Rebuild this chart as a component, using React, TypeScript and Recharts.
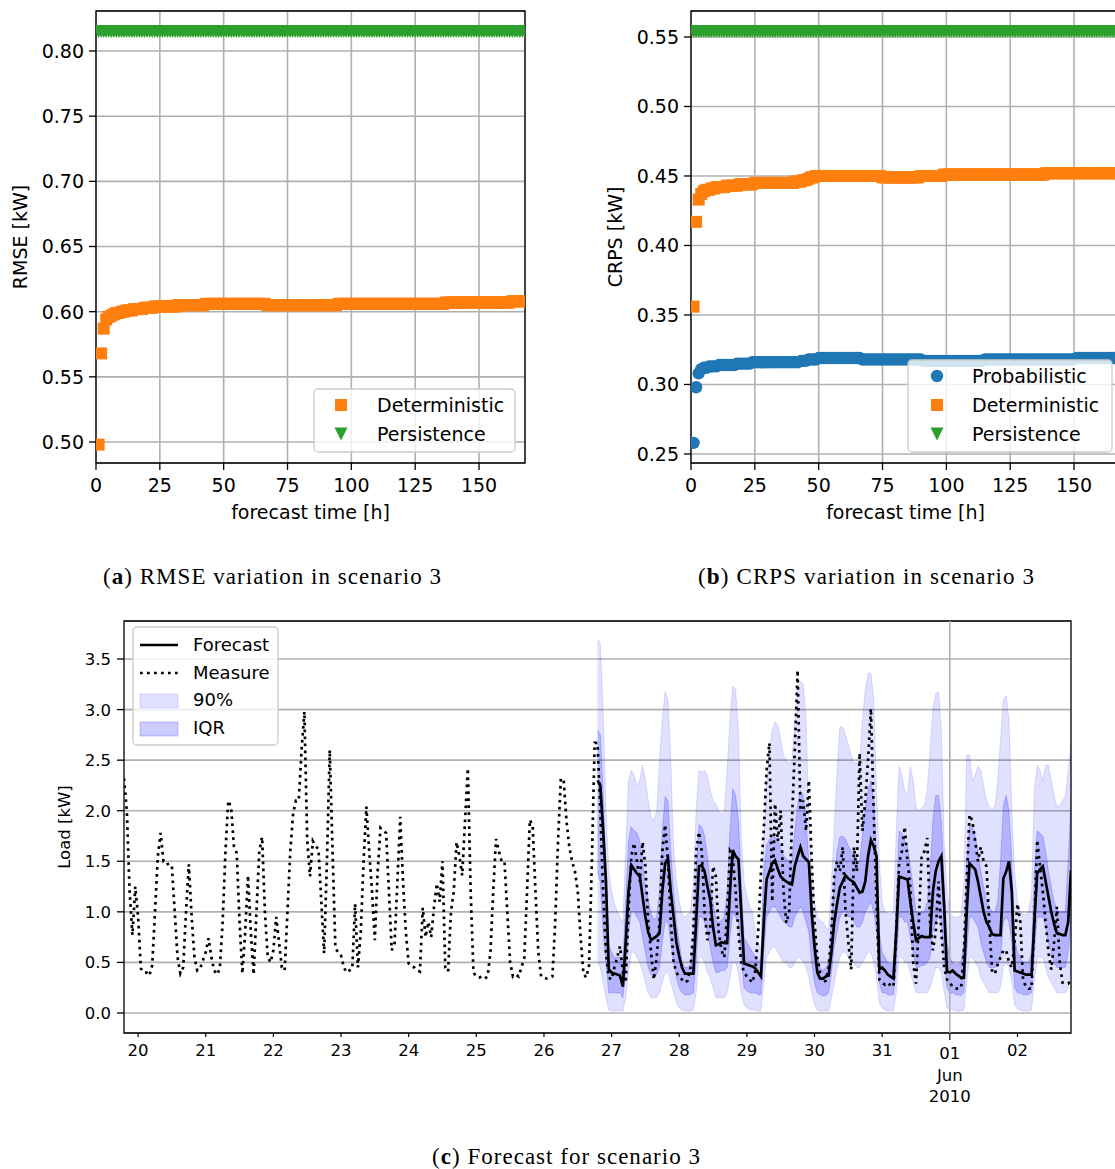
import React from "react";
import {
  ScatterChart,
  Scatter,
  ComposedChart,
  Line,
  Area,
  XAxis,
  YAxis,
  CartesianGrid,
  ReferenceArea,
  ReferenceLine,
} from "recharts";

const FONT = "DejaVu Sans, Verdana, sans-serif";
const SERIF = "Liberation Serif, Times New Roman, serif";
const ORANGE = "#ff7f0e";
const GREEN = "#2ca02c";
const BLUE = "#1f77b4";
const GRID = "#b0b0b0";

// ---- panels (a) and (b): error vs forecast horizon ----
const leadHours = Array.from({ length: 168 }, (_, i) => i + 1);
const leadTicks = [0, 25, 50, 75, 100, 125, 150];
const rmseTicks = [0.5, 0.55, 0.6, 0.65, 0.7, 0.75, 0.8];
const crpsTicks = [0.25, 0.3, 0.35, 0.4, 0.45, 0.5, 0.55];

const rmseDeterministic = [
  0.498, 0.568, 0.587, 0.594, 0.596, 0.597, 0.598, 0.599, 0.599, 0.6, 0.6, 0.601,
  0.601, 0.601, 0.602, 0.602, 0.602, 0.602, 0.603, 0.603, 0.603, 0.603, 0.604, 0.604,
  0.604, 0.604, 0.604, 0.604, 0.604, 0.604, 0.604, 0.605, 0.605, 0.605, 0.605, 0.605,
  0.605, 0.605, 0.605, 0.605, 0.605, 0.605, 0.606, 0.606, 0.606, 0.606, 0.606, 0.606,
  0.606, 0.606, 0.606, 0.606, 0.606, 0.606, 0.606, 0.606, 0.606, 0.606, 0.606, 0.606,
  0.606, 0.606, 0.606, 0.606, 0.606, 0.606, 0.605, 0.605, 0.605, 0.605, 0.605, 0.605,
  0.605, 0.605, 0.605, 0.605, 0.605, 0.605, 0.605, 0.605, 0.605, 0.605, 0.605, 0.605,
  0.605, 0.605, 0.605, 0.605, 0.605, 0.605, 0.605, 0.605, 0.605, 0.605, 0.606, 0.606,
  0.606, 0.606, 0.606, 0.606, 0.606, 0.606, 0.606, 0.606, 0.606, 0.606, 0.606, 0.606,
  0.606, 0.606, 0.606, 0.606, 0.606, 0.606, 0.606, 0.606, 0.606, 0.606, 0.606, 0.606,
  0.606, 0.606, 0.606, 0.606, 0.606, 0.606, 0.606, 0.606, 0.606, 0.606, 0.606, 0.606,
  0.606, 0.606, 0.606, 0.606, 0.607, 0.607, 0.607, 0.607, 0.607, 0.607, 0.607, 0.607,
  0.607, 0.607, 0.607, 0.607, 0.607, 0.607, 0.607, 0.607, 0.607, 0.607, 0.607, 0.607,
  0.607, 0.607, 0.607, 0.607, 0.607, 0.607, 0.608, 0.608, 0.608, 0.608, 0.608, 0.608,
];
const rmsePersistence = 0.815;

const crpsProbabilistic = [
  0.258, 0.298, 0.308, 0.311, 0.312, 0.312, 0.313, 0.313, 0.313, 0.313, 0.314, 0.314,
  0.314, 0.314, 0.314, 0.314, 0.314, 0.315, 0.315, 0.315, 0.315, 0.315, 0.315, 0.316,
  0.316, 0.316, 0.316, 0.316, 0.316, 0.316, 0.316, 0.316, 0.316, 0.316, 0.316, 0.316,
  0.316, 0.316, 0.316, 0.316, 0.316, 0.316, 0.317, 0.317, 0.317, 0.318, 0.318, 0.318,
  0.318, 0.319, 0.319, 0.319, 0.319, 0.319, 0.319, 0.319, 0.319, 0.319, 0.319, 0.319,
  0.319, 0.319, 0.319, 0.319, 0.319, 0.319, 0.318, 0.318, 0.318, 0.318, 0.318, 0.318,
  0.318, 0.318, 0.318, 0.318, 0.318, 0.318, 0.318, 0.318, 0.318, 0.318, 0.318, 0.318,
  0.318, 0.318, 0.318, 0.318, 0.318, 0.318, 0.317, 0.317, 0.317, 0.317, 0.317, 0.317,
  0.317, 0.317, 0.317, 0.317, 0.317, 0.317, 0.317, 0.317, 0.317, 0.317, 0.317, 0.317,
  0.317, 0.317, 0.317, 0.317, 0.317, 0.317, 0.318, 0.318, 0.318, 0.318, 0.318, 0.318,
  0.318, 0.318, 0.318, 0.318, 0.318, 0.318, 0.318, 0.318, 0.318, 0.318, 0.318, 0.318,
  0.318, 0.318, 0.318, 0.318, 0.318, 0.318, 0.318, 0.318, 0.318, 0.318, 0.318, 0.318,
  0.318, 0.318, 0.318, 0.318, 0.318, 0.318, 0.319, 0.319, 0.319, 0.319, 0.319, 0.319,
  0.319, 0.319, 0.319, 0.319, 0.319, 0.319, 0.319, 0.319, 0.319, 0.319, 0.319, 0.319,
];
const crpsDeterministic = [
  0.356, 0.417, 0.433, 0.437, 0.439, 0.44, 0.44, 0.441, 0.441, 0.442, 0.442, 0.442,
  0.442, 0.443, 0.443, 0.443, 0.443, 0.443, 0.444, 0.444, 0.444, 0.444, 0.444, 0.444,
  0.445, 0.445, 0.445, 0.445, 0.445, 0.445, 0.445, 0.445, 0.445, 0.445, 0.445, 0.445,
  0.445, 0.445, 0.445, 0.445, 0.446, 0.446, 0.446, 0.447, 0.447, 0.448, 0.449, 0.449,
  0.45, 0.45, 0.45, 0.45, 0.45, 0.45, 0.45, 0.45, 0.45, 0.45, 0.45, 0.45,
  0.45, 0.45, 0.45, 0.45, 0.45, 0.45, 0.45, 0.45, 0.45, 0.45, 0.45, 0.45,
  0.45, 0.45, 0.449, 0.449, 0.449, 0.449, 0.449, 0.449, 0.449, 0.449, 0.449, 0.449,
  0.449, 0.449, 0.449, 0.449, 0.449, 0.45, 0.45, 0.45, 0.45, 0.45, 0.45, 0.45,
  0.45, 0.45, 0.451, 0.451, 0.451, 0.451, 0.451, 0.451, 0.451, 0.451, 0.451, 0.451,
  0.451, 0.451, 0.451, 0.451, 0.451, 0.451, 0.451, 0.451, 0.451, 0.451, 0.451, 0.451,
  0.451, 0.451, 0.451, 0.451, 0.451, 0.451, 0.451, 0.451, 0.451, 0.451, 0.451, 0.451,
  0.451, 0.451, 0.451, 0.451, 0.451, 0.451, 0.452, 0.452, 0.452, 0.452, 0.452, 0.452,
  0.452, 0.452, 0.452, 0.452, 0.452, 0.452, 0.452, 0.452, 0.452, 0.452, 0.452, 0.452,
  0.452, 0.452, 0.452, 0.452, 0.452, 0.452, 0.452, 0.452, 0.452, 0.452, 0.452, 0.452,
];
const crpsPersistence = 0.554;

// ---- panel (c): hourly load, 19 May 19:00 .. 2 Jun 19:00 ----
const loadTicks = [0, 0.5, 1, 1.5, 2, 2.5, 3, 3.5];
const dayTicks = [5, 29, 53, 77, 101, 125, 149, 173, 197, 221, 245, 269, 293, 317];
const dayLabels = ["20", "21", "22", "23", "24", "25", "26", "27", "28", "29", "30", "31", "01", "02"];
const monthStart = 293;

const measure = [
  2.32, 2.0, 1.2, 0.77, 1.25, 0.95, 0.44, 0.4, 0.4, 0.37, 0.47, 1.0,
  1.55, 1.78, 1.5, 1.5, 1.45, 1.45, 1.0, 0.55, 0.39, 0.45, 1.0, 1.47,
  0.95, 0.55, 0.42, 0.44, 0.52, 0.6, 0.74, 0.55, 0.42, 0.38, 0.44, 0.9,
  1.6, 2.1, 2.03, 1.65, 1.58, 0.9, 0.39, 0.8, 1.36, 0.8, 0.38, 1.0,
  1.6, 1.74, 1.0, 0.55, 0.5, 0.62, 0.95, 0.7, 0.45, 0.42, 1.0, 1.6,
  1.97, 2.1, 2.1, 2.6, 2.98, 1.71, 1.35, 1.7, 1.65, 1.62, 1.1, 0.59,
  1.5, 2.6, 1.6, 0.64, 0.6, 0.57, 0.45, 0.4, 0.42, 0.44, 1.08, 0.45,
  0.8, 1.5, 2.04, 1.6, 1.2, 0.72, 1.4, 1.83, 1.8, 1.78, 1.2, 0.62,
  0.69, 1.3, 1.94, 1.3, 0.8, 0.49, 0.46, 0.45, 0.42, 0.41, 1.04, 0.75,
  0.9, 0.75, 1.05, 1.28, 1.1, 1.5, 0.45, 0.41, 1.0, 1.2, 1.69, 1.55,
  1.36, 1.9, 2.42, 1.2, 0.4, 0.36, 0.35, 0.36, 0.34, 0.36, 0.6, 1.2,
  1.72, 1.6, 1.5, 1.5, 1.0, 0.5, 0.36, 0.38, 0.36, 0.45, 0.54, 1.2,
  1.91, 1.85, 1.2, 0.6, 0.36, 0.35, 0.34, 0.35, 0.36, 0.9, 1.7, 2.32,
  2.3, 1.9, 1.64, 1.5, 1.4, 1.2, 0.75, 0.39, 0.35, 0.47, 1.5, 2.67,
  2.67, 2.0, 1.2, 0.6, 0.35, 0.33, 0.45, 0.55, 0.66, 0.4, 0.3, 1.0,
  1.55, 1.68, 1.5, 1.3, 1.69, 1.45, 0.9, 0.6, 0.33, 0.55, 0.9, 1.6,
  1.86, 1.5, 0.9, 0.5, 0.4, 0.36, 0.33, 0.3, 0.32, 0.45, 0.8, 1.6,
  1.79, 1.6, 1.0, 0.72, 0.85, 1.45, 1.35, 0.8, 0.62, 0.55, 1.0, 1.6,
  1.55, 1.2, 0.8, 0.5, 0.4, 0.36, 0.33, 0.3, 0.42, 0.8, 1.4, 1.81,
  2.4, 2.67, 1.1, 2.07, 1.7, 2.0, 1.2, 0.89, 1.0, 1.9, 2.6, 3.39,
  2.0, 2.1, 1.8, 2.3, 1.5, 0.9, 0.55, 0.4, 0.3, 0.32, 0.45, 0.8,
  1.35, 1.5, 1.4, 1.64, 1.0, 0.7, 0.43, 1.64, 1.4, 2.57, 1.8, 2.1,
  2.5, 3.01, 2.0, 1.1, 0.33, 0.3, 0.28, 0.3, 0.27, 0.26, 0.8, 1.48,
  1.6, 1.84, 1.5, 1.24, 0.5, 0.29, 0.9, 1.55, 1.6, 1.73, 0.9, 0.62,
  0.8, 1.3, 0.8, 0.45, 0.33, 0.3, 0.26, 0.24, 0.24, 0.25, 0.6, 1.32,
  1.96, 1.9, 1.7, 1.5, 1.64, 1.5, 1.45, 0.9, 0.4, 0.39, 0.48, 0.55,
  0.62, 0.62, 0.5, 0.45, 0.7, 1.08, 0.9, 0.33, 0.26, 0.24, 0.24, 0.9,
  1.71, 1.45, 1.2, 0.9, 0.6, 0.43, 0.7, 1.05, 0.5, 0.3, 0.29, 0.29,
  0.32,
];

const forecastStart = 168;
const forecast = [
  2.3, 2.25, 1.81, 1.3, 0.43, 0.4, 0.39, 0.38, 0.37, 0.26, 0.7, 1.2,
  1.46, 1.42, 1.38, 1.35, 1.15, 0.95, 0.8, 0.72, 0.74, 0.76, 0.79, 1.2,
  1.48, 1.53, 1.2, 0.95, 0.7, 0.56, 0.45, 0.39, 0.39, 0.39, 0.39, 0.9,
  1.45, 1.46, 1.4, 1.25, 1.12, 0.85, 0.67, 0.68, 0.7, 0.69, 0.69, 1.2,
  1.61, 1.55, 1.52, 1.0, 0.49, 0.48, 0.47, 0.46, 0.44, 0.4, 0.36, 0.9,
  1.32, 1.4, 1.48, 1.51, 1.42, 1.35, 1.32, 1.3, 1.28, 1.27, 1.45, 1.55,
  1.64, 1.55, 1.52, 1.49, 0.99, 0.65, 0.4, 0.34, 0.34, 0.36, 0.37, 0.6,
  0.9, 1.08, 1.24, 1.3, 1.36, 1.33, 1.31, 1.29, 1.24, 1.19, 1.2, 1.3,
  1.55, 1.71, 1.65, 1.55, 0.43, 0.45, 0.42, 0.38, 0.36, 0.34, 0.8, 1.35,
  1.34, 1.33, 1.32, 1.1, 0.9, 0.72, 0.74, 0.76, 0.75, 0.75, 0.75, 1.2,
  1.4, 1.5, 1.55, 1.05, 0.41, 0.4, 0.42, 0.39, 0.37, 0.35, 0.35, 1.0,
  1.48, 1.45, 1.42, 1.3, 1.15, 1.0, 0.9, 0.85, 0.78, 0.77, 0.77, 0.77,
  1.33, 1.4, 1.5, 1.2, 0.42, 0.41, 0.4, 0.39, 0.38, 0.38, 0.38, 0.9,
  1.38, 1.42, 1.45, 1.3, 1.15, 1.0, 0.88, 0.79, 0.78, 0.77, 0.77, 0.9,
  1.41,
];

const q05 = [
  0.5, 0.45, 0.3, 0.15, 0.03, 0.02, 0.02, 0.02, 0.02, 0.02, 0.15, 0.4,
  0.6, 0.6, 0.55, 0.5, 0.4, 0.3, 0.2, 0.15, 0.15, 0.15, 0.2, 0.3,
  0.4, 0.4, 0.3, 0.2, 0.1, 0.05, 0.03, 0.02, 0.02, 0.02, 0.03, 0.2,
  0.55, 0.55, 0.5, 0.4, 0.35, 0.25, 0.15, 0.15, 0.15, 0.15, 0.2, 0.35,
  0.5, 0.5, 0.4, 0.2, 0.08, 0.05, 0.03, 0.03, 0.03, 0.02, 0.02, 0.3,
  0.55, 0.6, 0.65, 0.65, 0.6, 0.55, 0.5, 0.5, 0.45, 0.45, 0.5, 0.55,
  0.55, 0.5, 0.45, 0.35, 0.2, 0.08, 0.03, 0.02, 0.02, 0.02, 0.02, 0.15,
  0.3, 0.45, 0.55, 0.6, 0.6, 0.55, 0.5, 0.5, 0.45, 0.45, 0.5, 0.55,
  0.6, 0.6, 0.5, 0.35, 0.1, 0.05, 0.03, 0.02, 0.02, 0.02, 0.2, 0.55,
  0.55, 0.5, 0.5, 0.4, 0.3, 0.2, 0.2, 0.2, 0.2, 0.2, 0.25, 0.35,
  0.45, 0.45, 0.4, 0.2, 0.05, 0.03, 0.03, 0.02, 0.02, 0.02, 0.03, 0.3,
  0.55, 0.55, 0.5, 0.45, 0.35, 0.3, 0.25, 0.2, 0.2, 0.2, 0.2, 0.25,
  0.45, 0.5, 0.45, 0.3, 0.08, 0.04, 0.03, 0.02, 0.02, 0.02, 0.03, 0.3,
  0.55, 0.55, 0.55, 0.45, 0.35, 0.3, 0.25, 0.2, 0.2, 0.2, 0.2, 0.25,
  0.45,
];
const q25 = [
  1.4, 1.3, 0.8, 0.5, 0.2, 0.2, 0.2, 0.2, 0.2, 0.15, 0.4, 0.8,
  1.0, 1.0, 0.95, 0.9, 0.75, 0.6, 0.45, 0.38, 0.36, 0.38, 0.45, 0.7,
  0.9, 0.9, 0.7, 0.5, 0.35, 0.25, 0.2, 0.18, 0.18, 0.18, 0.2, 0.5,
  0.95, 0.95, 0.9, 0.8, 0.65, 0.5, 0.4, 0.4, 0.42, 0.42, 0.45, 0.75,
  1.0, 0.95, 0.9, 0.55, 0.25, 0.22, 0.2, 0.2, 0.2, 0.18, 0.18, 0.6,
  0.95, 1.0, 1.05, 1.05, 1.0, 0.95, 0.9, 0.88, 0.85, 0.85, 0.95, 1.0,
  1.05, 1.0, 0.9, 0.8, 0.5, 0.3, 0.2, 0.18, 0.17, 0.17, 0.2, 0.4,
  0.65, 0.8, 0.95, 1.0, 1.0, 0.95, 0.95, 0.9, 0.85, 0.85, 0.9, 1.0,
  1.05, 1.1, 1.0, 0.8, 0.3, 0.2, 0.2, 0.18, 0.18, 0.18, 0.45, 0.95,
  0.95, 0.9, 0.9, 0.75, 0.6, 0.45, 0.45, 0.47, 0.47, 0.5, 0.55, 0.8,
  0.9, 0.95, 0.9, 0.55, 0.25, 0.2, 0.2, 0.18, 0.18, 0.17, 0.2, 0.6,
  0.95, 0.95, 0.9, 0.85, 0.7, 0.6, 0.5, 0.45, 0.45, 0.45, 0.47, 0.55,
  0.9, 0.95, 0.9, 0.7, 0.25, 0.2, 0.2, 0.18, 0.18, 0.18, 0.2, 0.6,
  0.95, 0.95, 0.95, 0.85, 0.7, 0.6, 0.5, 0.45, 0.45, 0.45, 0.45, 0.6,
  0.9,
];
const q75 = [
  2.8, 2.75, 2.2, 1.4, 0.66, 0.6, 0.55, 0.55, 0.55, 0.5, 1.1, 1.7,
  1.84, 1.8, 1.78, 1.7, 1.5, 1.25, 1.12, 0.98, 0.92, 0.95, 1.2, 1.8,
  2.14, 2.1, 1.6, 1.2, 0.9, 0.7, 0.5, 0.45, 0.45, 0.48, 0.7, 1.4,
  1.86, 1.84, 1.75, 1.55, 1.28, 1.1, 0.92, 0.9, 0.92, 0.95, 1.2, 1.8,
  2.22, 2.15, 1.9, 1.3, 0.75, 0.7, 0.65, 0.6, 0.55, 0.5, 0.55, 1.4,
  1.65, 1.72, 1.74, 1.74, 1.7, 1.62, 1.56, 1.52, 1.5, 1.5, 1.8, 2.05,
  2.2, 2.15, 1.9, 1.5, 1.1, 0.8, 0.55, 0.45, 0.42, 0.45, 0.5, 0.9,
  1.3, 1.6, 1.74, 1.75, 1.72, 1.65, 1.6, 1.55, 1.5, 1.5, 1.75, 2.0,
  2.2, 2.3, 2.1, 1.6, 0.8, 0.6, 0.55, 0.5, 0.48, 0.5, 1.1, 1.8,
  1.78, 1.7, 1.65, 1.45, 1.25, 1.0, 0.98, 1.0, 1.0, 1.1, 1.4, 1.9,
  2.15, 2.15, 1.9, 1.3, 0.7, 0.55, 0.5, 0.48, 0.48, 0.5, 0.7, 1.5,
  1.86, 1.84, 1.75, 1.6, 1.4, 1.25, 1.12, 1.05, 1.0, 1.0, 1.1, 1.5,
  2.05, 2.15, 2.0, 1.5, 0.75, 0.6, 0.55, 0.5, 0.5, 0.5, 0.6, 1.4,
  1.8, 1.78, 1.75, 1.6, 1.4, 1.25, 1.1, 1.02, 1.0, 1.0, 1.0, 1.5,
  2.1,
];
const q95 = [
  3.7, 3.65, 3.0, 2.0, 1.41, 1.2, 1.09, 1.0, 0.95, 0.89, 1.6, 2.3,
  2.4, 2.35, 2.25, 2.3, 2.45, 2.3, 2.1, 1.94, 1.9, 2.0, 2.5, 2.9,
  3.18, 3.1, 2.5, 1.64, 1.3, 1.1, 0.98, 0.95, 0.98, 1.0, 1.3, 2.0,
  2.4, 2.38, 2.4, 2.35, 2.2, 2.1, 2.07, 2.0, 1.97, 2.0, 2.4, 2.9,
  3.23, 3.2, 2.8, 1.74, 1.3, 1.15, 1.05, 1.0, 0.8, 0.7, 0.62, 1.74,
  2.3, 2.6, 2.8, 2.88, 2.85, 2.7, 2.55, 2.5, 2.47, 2.5, 2.9, 3.2,
  3.28, 3.25, 2.9, 1.9, 1.4, 1.1, 0.95, 0.92, 0.9, 0.85, 0.82, 1.3,
  1.81, 2.4, 2.83, 2.83, 2.75, 2.65, 2.55, 2.47, 2.47, 2.5, 2.9, 3.2,
  3.36, 3.36, 3.1, 2.2, 1.5, 1.1, 0.99, 0.98, 0.98, 0.99, 1.8, 2.44,
  2.35, 2.2, 2.17, 2.44, 2.3, 2.04, 2.0, 2.02, 2.06, 2.2, 2.6, 3.0,
  3.16, 3.18, 2.8, 1.68, 1.2, 0.99, 0.95, 0.95, 0.95, 0.97, 1.3, 2.55,
  2.55, 2.3, 2.35, 2.44, 2.4, 2.25, 2.1, 2.04, 2.02, 2.04, 2.3, 2.7,
  3.1, 3.14, 2.9, 2.0, 1.4, 1.1, 0.99, 0.98, 0.97, 1.0, 1.2, 2.2,
  2.45, 2.4, 2.3, 2.45, 2.45, 2.3, 2.15, 2.04, 2.05, 2.1, 2.14, 2.4,
  2.7,
];

const loadData = measure.map((m, h) => {
  const k = h - forecastStart;
  const inFc = k >= 0 && k < forecast.length;
  return {
    h,
    measure: m,
    forecast: inFc ? forecast[k] : null,
    q05: inFc ? q05[k] : null,
    q25: inFc ? q25[k] : null,
    q75: inFc ? q75[k] : null,
    q95: inFc ? q95[k] : null,
  };
});

const pts = (values: number[]) => leadHours.map((x, i) => ({ x, y: values[i] }));
const flat = (v: number) => leadHours.map((x) => ({ x, y: v }));

// ---- marker shapes ----
const square = (color: string) => (p: any) => (
  <rect x={p.cx - 6} y={p.cy - 6} width={12} height={12} fill={color} />
);
const dot = (color: string) => (p: any) => <circle cx={p.cx} cy={p.cy} r={6.2} fill={color} />;
const triDown = (color: string) => (p: any) => (
  <polygon
    points={`${p.cx - 6.5},${p.cy - 6.5} ${p.cx + 6.5},${p.cy - 6.5} ${p.cx},${p.cy + 6.5}`}
    fill={color}
  />
);

// ---- ticks ----
const BottomTick = (props: any) => {
  const { x, y, payload } = props;
  return (
    <g>
      <line x1={x} x2={x} y1={y} y2={y + 7} stroke="#000" strokeWidth={1.3} />
      <text x={x} y={y + 29} textAnchor="middle" fontSize={19} fontFamily={FONT} fill="#000">
        {payload.value}
      </text>
    </g>
  );
};

const leftTick = (fs: number, digits: number, gap: number) => (props: any) => {
  const { x, y, payload } = props;
  return (
    <g>
      <line x1={x - 7} x2={x} y1={y} y2={y} stroke="#000" strokeWidth={1.3} />
      <text x={x - gap} y={y} dy="0.36em" textAnchor="end" fontSize={fs} fontFamily={FONT} fill="#000">
        {Number(payload.value).toFixed(digits)}
      </text>
    </g>
  );
};

const DayTick = (props: any) => {
  const { x, y, payload } = props;
  const idx = dayTicks.indexOf(payload.value);
  const label = dayLabels[idx];
  const major = payload.value === monthStart;
  const style = { fontSize: 16.5, fontFamily: FONT, fill: "#000" };
  return (
    <g>
      <line x1={x} x2={x} y1={y} y2={y + (major ? 7 : 4)} stroke="#000" strokeWidth={1.2} />
      {major ? (
        <text x={x} textAnchor="middle" {...style}>
          <tspan x={x} y={y + 26}>{label}</tspan>
          <tspan x={x} y={y + 48}>Jun</tspan>
          <tspan x={x} y={y + 69}>2010</tspan>
        </text>
      ) : (
        <text x={x} y={y + 23} textAnchor="middle" {...style}>
          {label}
        </text>
      )}
    </g>
  );
};

type ScoreProps = {
  left: number;
  yDomain: [number, number];
  yTicks: number[];
  children: React.ReactNode;
};

const ScorePanel = ({ left, yDomain, yTicks, children }: ScoreProps) => (
  <div style={{ position: "absolute", left, top: 0 }}>
    <ScatterChart width={540} height={530} margin={{ top: 11, right: 15, bottom: 0, left: 0 }}>
      <CartesianGrid stroke={GRID} strokeWidth={1.6} />
      <XAxis
        type="number"
        dataKey="x"
        domain={[0, 168]}
        ticks={leadTicks}
        allowDataOverflow
        height={67}
        axisLine={false}
        tickLine={false}
        tickSize={0}
        tickMargin={0}
        tick={BottomTick}
      />
      <YAxis
        type="number"
        dataKey="y"
        domain={yDomain}
        ticks={yTicks}
        allowDataOverflow
        width={96}
        axisLine={false}
        tickLine={false}
        tickSize={0}
        tickMargin={0}
        tick={leftTick(19, 2, 12)}
      />
      {children}
      <ReferenceArea x1={0} x2={168} y1={yDomain[0]} y2={yDomain[1]} fill="none" stroke="#000" strokeWidth={1.3} />
    </ScatterChart>
  </div>
);

const lbl = { fontSize: 19, fontFamily: FONT, fill: "#000" };
const lgd = { fontSize: 18, fontFamily: FONT, fill: "#000" };
const cap = { fontSize: 23, fontFamily: SERIF, fill: "#000" };

export default function App() {
  return (
    <div
      style={{
        position: "absolute",
        left: 0,
        top: 0,
        width: 1115,
        height: 1169,
        overflow: "hidden",
        background: "#fff",
      }}
    >
      <ScorePanel left={0} yDomain={[0.4839, 0.8307]} yTicks={rmseTicks}>
        <Scatter data={pts(rmseDeterministic)} shape={square(ORANGE)} isAnimationActive={false} />
        <Scatter data={flat(rmsePersistence)} shape={triDown(GREEN)} isAnimationActive={false} />
      </ScorePanel>

      <ScorePanel left={595} yDomain={[0.2435, 0.5687]} yTicks={crpsTicks}>
        <Scatter data={pts(crpsProbabilistic)} shape={dot(BLUE)} isAnimationActive={false} />
        <Scatter data={pts(crpsDeterministic)} shape={square(ORANGE)} isAnimationActive={false} />
        <Scatter data={flat(crpsPersistence)} shape={triDown(GREEN)} isAnimationActive={false} />
      </ScorePanel>

      <div style={{ position: "absolute", left: 0, top: 610 }}>
        <ComposedChart width={1090} height={510} data={loadData} margin={{ top: 11, right: 19, bottom: 0, left: 0 }}>
          <CartesianGrid stroke={GRID} strokeWidth={1.6} vertical={false} />
          <ReferenceLine x={monthStart} stroke={GRID} strokeWidth={1.6} />
          <XAxis
            type="number"
            dataKey="h"
            domain={[0, 336]}
            ticks={dayTicks}
            allowDataOverflow
            height={87}
            axisLine={false}
            tickLine={false}
            tickSize={0}
            tickMargin={0}
            tick={DayTick}
          />
          <YAxis
            type="number"
            domain={[-0.198, 3.876]}
            ticks={loadTicks}
            allowDataOverflow
            width={124}
            axisLine={false}
            tickLine={false}
            tickSize={0}
            tickMargin={0}
            tick={leftTick(16.5, 1, 13)}
          />
          <Area
            type="linear"
            dataKey={(d: any) => (d.q05 == null ? null : [d.q05, d.q95])}
            fill="#0000ff"
            fillOpacity={0.12}
            stroke="#0000ff"
            strokeOpacity={0.12}
            strokeWidth={1}
            isAnimationActive={false}
          />
          <Area
            type="linear"
            dataKey={(d: any) => (d.q25 == null ? null : [d.q25, d.q75])}
            fill="#0000ff"
            fillOpacity={0.2}
            stroke="#0000ff"
            strokeOpacity={0.2}
            strokeWidth={1}
            isAnimationActive={false}
          />
          <Line
            type="linear"
            dataKey="forecast"
            stroke="#000"
            strokeWidth={2.7}
            dot={false}
            isAnimationActive={false}
          />
          <Line
            type="linear"
            dataKey="measure"
            stroke="#000"
            strokeWidth={2.7}
            strokeDasharray="2.7 4.3"
            dot={false}
            isAnimationActive={false}
          />
          <ReferenceArea x1={0} x2={336} y1={-0.198} y2={3.876} fill="none" stroke="#000" strokeWidth={1.3} />
        </ComposedChart>
      </div>

      <svg
        width={1115}
        height={1169}
        style={{ position: "absolute", left: 0, top: 0, pointerEvents: "none" }}
      >
        {/* axis titles */}
        <text transform="translate(20,237) rotate(-90)" textAnchor="middle" dy="0.36em" {...lbl}>
          RMSE [kW]
        </text>
        <text transform="translate(615,237) rotate(-90)" textAnchor="middle" dy="0.36em" {...lbl}>
          CRPS [kW]
        </text>
        <text x={310.5} y={519} textAnchor="middle" {...lbl}>
          forecast time [h]
        </text>
        <text x={905.5} y={519} textAnchor="middle" {...lbl}>
          forecast time [h]
        </text>
        <text transform="translate(64,827) rotate(-90)" textAnchor="middle" dy="0.36em" {...lbl} fontSize={16.5}>
          Load [kW]
        </text>

        {/* legend (a) */}
        <rect x={314} y={389} width={201} height={63} rx={4} fill="#fff" fillOpacity={0.8} stroke="#cccccc" strokeWidth={1.3} />
        {square(ORANGE)({ cx: 341, cy: 405 })}
        {triDown(GREEN)({ cx: 341, cy: 434 })}
        <text x={377} y={405} dy="0.36em" {...lbl}>Deterministic</text>
        <text x={377} y={434} dy="0.36em" {...lbl}>Persistence</text>

        {/* legend (b) */}
        <rect x={908} y={360} width={204} height={92} rx={4} fill="#fff" fillOpacity={0.8} stroke="#cccccc" strokeWidth={1.3} />
        {dot(BLUE)({ cx: 937, cy: 376 })}
        {square(ORANGE)({ cx: 937, cy: 405 })}
        {triDown(GREEN)({ cx: 937, cy: 434 })}
        <text x={972} y={376} dy="0.36em" {...lbl}>Probabilistic</text>
        <text x={972} y={405} dy="0.36em" {...lbl}>Deterministic</text>
        <text x={972} y={434} dy="0.36em" {...lbl}>Persistence</text>

        {/* legend (c) */}
        <rect x={133} y={627} width={145} height={118} rx={4} fill="#fff" fillOpacity={0.8} stroke="#cccccc" strokeWidth={1.3} />
        <line x1={140} x2={178} y1={645} y2={645} stroke="#000" strokeWidth={2.7} />
        <line x1={140} x2={178} y1={673} y2={673} stroke="#000" strokeWidth={2.7} strokeDasharray="2.7 4.3" />
        <rect x={140} y={694} width={38} height={14} fill="#0000ff" fillOpacity={0.12} stroke="#0000ff" strokeOpacity={0.12} />
        <rect x={140} y={722} width={38} height={14} fill="#0000ff" fillOpacity={0.2} stroke="#0000ff" strokeOpacity={0.2} />
        <text x={193} y={645} dy="0.36em" {...lgd}>Forecast</text>
        <text x={193} y={673} dy="0.36em" {...lgd}>Measure</text>
        <text x={193} y={700} dy="0.36em" {...lgd}>90%</text>
        <text x={193} y={728} dy="0.36em" {...lgd}>IQR</text>

        {/* captions */}
        <text x={272} y={584} textAnchor="middle" textLength={338} lengthAdjust="spacing" {...cap}>
          (<tspan fontWeight="bold">a</tspan>) RMSE variation in scenario 3
        </text>
        <text x={866} y={584} textAnchor="middle" textLength={336} lengthAdjust="spacing" {...cap}>
          (<tspan fontWeight="bold">b</tspan>) CRPS variation in scenario 3
        </text>
        <text x={566} y={1164} textAnchor="middle" textLength={268} lengthAdjust="spacing" {...cap}>
          (<tspan fontWeight="bold">c</tspan>) Forecast for scenario 3
        </text>
      </svg>
    </div>
  );
}
